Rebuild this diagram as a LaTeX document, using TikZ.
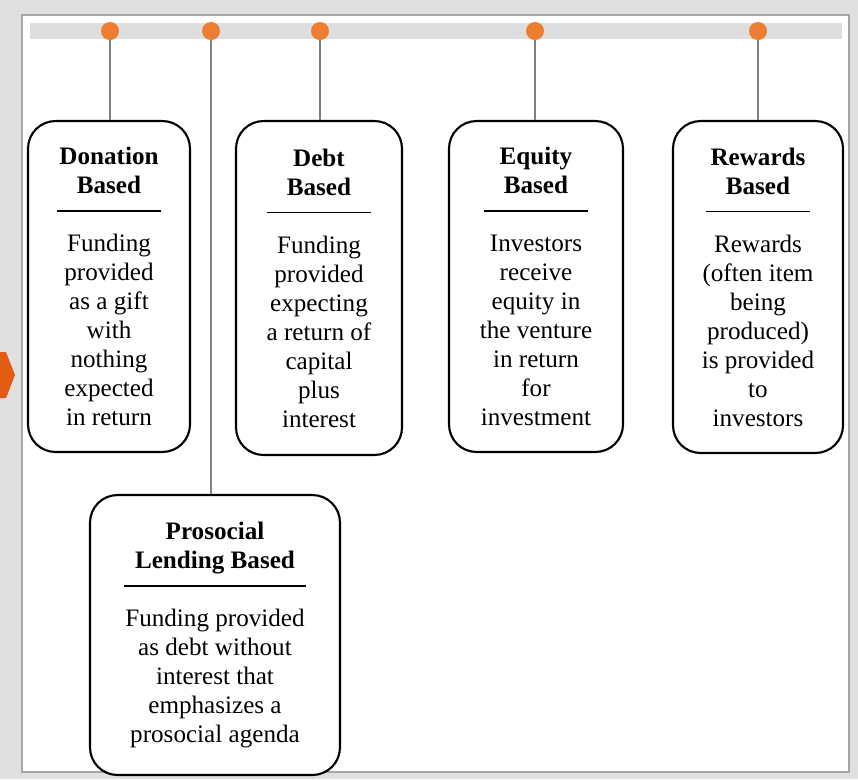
\documentclass[tikz,border=0pt]{standalone}
\usepackage{fontspec}
\setmainfont{Liberation Serif}
\definecolor{pinorange}{RGB}{237,125,49}
\definecolor{tiporange}{RGB}{228,92,18}
\definecolor{bargray}{RGB}{222,222,222}
\newcommand{\cardrule}[1]{\rule[6.2pt]{#1}{0.8pt}}

\begin{document}
\begin{tikzpicture}[x=0.02cm, y=-0.02cm,
    card/.style={draw, line width=1.2pt, rounded corners=0.55cm, fill=white,
        align=center, inner sep=0pt, font=\fontsize{14.3}{16.5}\selectfont},
    pin/.style={circle, fill=pinorange, minimum size=0.36cm, inner sep=0pt},
    stem/.style={draw=black!50, line width=0.8pt}]
    \useasboundingbox (0,0) rectangle (858,779);

    % frame
    \fill[black!12] (0,0) rectangle (858,779);
    \fill[white, draw=black!35, line width=1.6pt] (22,15) rectangle (849,772);
    \fill[tiporange] (0,352) -- (6,352) -- (15,375) -- (6,398) -- (0,398) -- cycle;

    % timeline
    \fill[bargray] (30,23) rectangle (842,39);
    \node[pin] (P1) at (110,31) {};
    \node[pin] (P2) at (211,31) {};
    \node[pin] (P3) at (320,31) {};
    \node[pin] (P4) at (535,31) {};
    \node[pin] (P5) at (758,31) {};

    \node[card, minimum width=3.24cm, minimum height=6.62cm] (A) at (109,286.5)
        {\textbf{Donation}\\\textbf{Based}\\\cardrule{2.1cm}\\Funding\\provided\\as a gift\\with\\nothing\\expected\\in return};
    \node[card, minimum width=3.32cm, minimum height=6.68cm] (B) at (319,288)
        {\textbf{Debt}\\\textbf{Based}\\\cardrule{2.08cm}\\Funding\\provided\\expecting\\a return of\\capital\\plus\\interest};
    \node[card, minimum width=3.48cm, minimum height=6.62cm] (C) at (536,286.5)
        {\textbf{Equity}\\\textbf{Based}\\\cardrule{2.1cm}\\Investors\\receive\\equity in\\the venture\\in return\\for\\investment};
    \node[card, minimum width=3.4cm, minimum height=6.64cm] (D) at (758,287)
        {\textbf{Rewards}\\\textbf{Based}\\\cardrule{2.08cm}\\Rewards\\(often item\\being\\produced)\\is provided\\to\\investors};
    \node[card, minimum width=5cm, minimum height=5.6cm] (E) at (215,635)
        {\textbf{Prosocial}\\\textbf{Lending Based}\\\cardrule{3.64cm}\\Funding provided\\as debt without\\interest that\\emphasizes a\\prosocial agenda};

    % stems
    \draw[stem] (P1) -- (P1 |- A.north);
    \draw[stem] (P2) -- (P2 |- E.north);
    \draw[stem] (P3) -- (P3 |- B.north);
    \draw[stem] (P4) -- (P4 |- C.north);
    \draw[stem] (P5) -- (P5 |- D.north);
\end{tikzpicture}
\end{document}
